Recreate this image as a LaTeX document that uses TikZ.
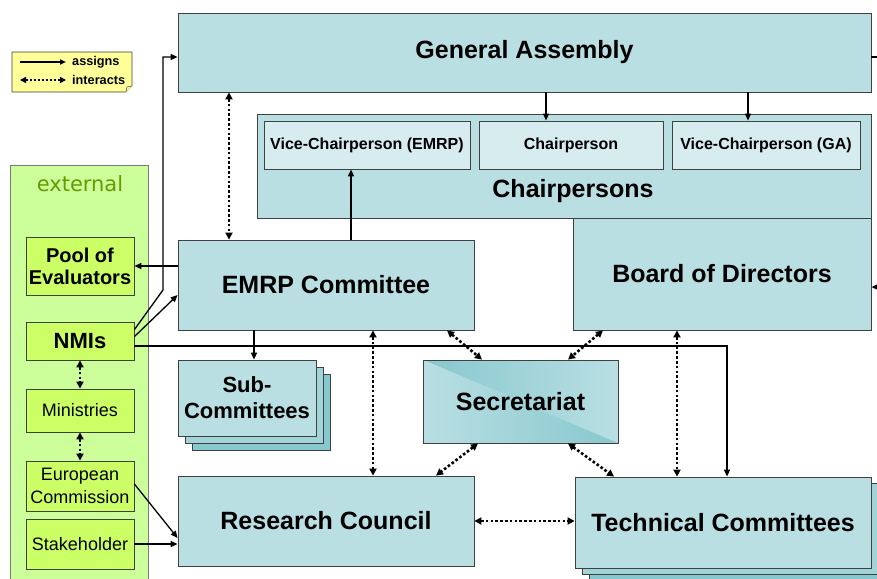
\documentclass[tikz,border=0pt]{standalone}
\usepackage{fontspec}
\setmainfont{Liberation Sans}
\newfontfamily\extfont{DejaVu Sans}
\usetikzlibrary{arrows.meta,calc}
\definecolor{tealA}{RGB}{185,223,227}
\definecolor{tealB}{RGB}{214,236,239}
\definecolor{tealC}{RGB}{160,212,217}
\definecolor{tealD}{RGB}{135,200,206}
\definecolor{bordercol}{RGB}{64,64,64}
\definecolor{yellowA}{RGB}{255,255,153}
\definecolor{greenA}{RGB}{204,255,153}
\definecolor{greenB}{RGB}{204,255,102}
\definecolor{extgreen}{RGB}{102,153,0}
\begin{document}
\begin{tikzpicture}[x=1pt,y=-1pt,
  box/.style={draw=bordercol, line width=0.8pt, fill=tealA, inner sep=0pt, align=center,
    font=\bfseries\fontsize{25}{28}\selectfont},
  chairbox/.style={box, fill=tealB, minimum height=48pt, font=\bfseries\fontsize{16}{18}\selectfont},
  gbox/.style={draw=bordercol, line width=0.8pt, fill=greenB, inner sep=0pt, align=center, minimum width=108pt},
  assign/.style={line width=1.3pt, -{Triangle[length=7pt,width=6pt]}},
  interact/.style={line width=2.6pt, dash pattern=on 2.6pt off 2.2pt,
    {Triangle[length=7pt,width=7pt]}-{Triangle[length=7pt,width=7pt]}},
  plainline/.style={line width=1.3pt}
]
\useasboundingbox (0,0) rectangle (877,578);
\clip (0,0) rectangle (877,578);

% legend
\path[draw=bordercol, fill=yellowA, line width=0.6pt] (12,52) -- (132,52) -- (132,86) -- (126,92) -- (12,92) -- cycle;
\path[draw=bordercol, fill=yellowA, line width=0.5pt] (126,92) -- (127,87) -- (132,86);
\coordinate (la1) at (20,62); \coordinate (la2) at (66,62);
\coordinate (lb1) at (20,80); \coordinate (lb2) at (66,80);
\draw[line width=1.5pt, -{Triangle[length=6pt,width=5pt]}] (la1) -- (la2);
\draw[line width=2pt, dash pattern=on 2pt off 2pt, {Triangle[length=6pt,width=6pt]}-{Triangle[length=6pt,width=6pt]}] (lb1) -- (lb2);
\node[anchor=west, inner sep=0pt, font=\bfseries\fontsize{12.7}{14}\selectfont] (lgA) at (72,62) {assigns};
\node[anchor=west, inner sep=0pt, font=\bfseries\fontsize{12.7}{14}\selectfont] (lgB) at (72,80) {interacts};

% external panel
\node[draw=bordercol!70, line width=0.8pt, fill=greenA, minimum width=138pt, minimum height=420pt, inner sep=0pt] (ext) at (79,375) {};
\node[font=\extfont\fontsize{21}{24}\selectfont, text=extgreen] (extlbl) at (80,184) {external};
\node[gbox, minimum height=58pt, font=\bfseries\fontsize{20}{22}\selectfont] (pool) at (80,266) {Pool of\\Evaluators};
\node[gbox, minimum height=38pt, font=\bfseries\fontsize{22}{24}\selectfont] (nmi) at (80,341) {NMIs};
\node[gbox, minimum height=43pt, font=\fontsize{18}{21}\selectfont] (min) at (80,410.5) {Ministries};
\node[gbox, minimum height=50pt, font=\fontsize{18}{23}\selectfont] (ec) at (80,486) {European\\Commission};
\node[gbox, minimum height=50pt, font=\fontsize{18}{21}\selectfont] (stk) at (80,544) {Stakeholder};

% main boxes
\node[box, minimum width=693pt, minimum height=79pt] (ga) at (524.5,52.5) {\raisebox{-2pt}{General Assembly}};
\node[box, minimum width=614pt, minimum height=104pt] (chairs) at (564,166) {};
\node[inner sep=0pt, font=\bfseries\fontsize{25}{28}\selectfont] (chtxt) at (573,191) {Chairpersons};
\node[chairbox, minimum width=206pt] (vce) at (367,145) {Vice-Chairperson (EMRP)};
\node[chairbox, minimum width=184pt] (ch) at (571,145) {Chairperson};
\node[chairbox, minimum width=188pt] (vcg) at (766,145) {Vice-Chairperson (GA)};
\node[box, minimum width=298pt, minimum height=112pt] (bod) at (722,274) {Board of Directors};
\node[box, minimum width=296pt, minimum height=90pt] (emrp) at (326,285) {\raisebox{-2pt}{EMRP Committee}};

% sub-committees stack
\node[box, fill=tealD, minimum width=138pt, minimum height=76pt] (subC) at (261,412) {};
\node[box, fill=tealC, minimum width=138pt, minimum height=76pt] (subB) at (254,405) {};
\node[box, minimum width=138pt, minimum height=76pt, font=\bfseries\fontsize{22}{26}\selectfont] (sub) at (247,398) {Sub-\\Committees};

% secretariat with two-way shading
\coordinate (s1) at (423,360); \coordinate (s2) at (618,360);
\coordinate (s3) at (618,443); \coordinate (s4) at (423,443);
\shade[left color=tealD, right color=tealA] (s1) -- (s2) -- (s3) -- cycle;
\shade[left color=tealA, right color=tealD] (s1) -- (s3) -- (s4) -- cycle;
\node[box, fill=none, minimum width=195pt, minimum height=83pt] (sec) at (520.5,401.5) {Secretariat};

\node[box, minimum width=296pt, minimum height=90pt] (rc) at (326,521) {Research Council};

% technical committees stack
\node[box, fill=tealD, minimum width=296pt, minimum height=91pt] (tcC) at (737,534.5) {};
\node[box, fill=tealC, minimum width=296pt, minimum height=91pt] (tcB) at (730,528.5) {};
\node[box, minimum width=296pt, minimum height=91pt] (tc) at (723,522.5) {Technical Committees};

% assigns
\draw[assign] (ga.south -| 546,0) -- (ch.north -| 546,0);
\draw[assign] (ga.south -| 748,0) -- (vcg.north -| 748,0);
\draw[assign] (emrp.north -| 351,0) -- (vce.south -| 351,0);
\draw[assign] ([yshift=-8pt]nmi.north east) -- (163,290) -- (163,57) -- (ga.west |- 0,57);
\draw[assign] ([yshift=-15pt]nmi.north east) -- (emrp.west |- 0,295);
\draw[assign] (emrp.west |- pool.east) -- (pool.east);
\draw[assign] (nmi.east |- 0,346) -- (727,346) -- (tc.north -| 727,0);
\draw[assign] (emrp.south -| 254,0) -- (sub.north -| 254,0);
\draw[assign] (ec.east |- 0,484) -- (rc.west |- 0,538);
\draw[assign] (stk.east) -- (rc.west |- stk.east);
\coordinate (gaout) at (877,57);
\draw[plainline] (ga.east |- gaout) -- (gaout);
\coordinate (bodin) at (877,287);
\draw[assign] (bodin) -- (bod.east |- bodin);

% interacts
\draw[interact] (ga.south -| 229,0) -- (emrp.north -| 229,0);
\draw[interact] (emrp.south -| 373,0) -- (rc.north -| 373,0);
\draw[interact] (emrp.south -| 447,0) -- (sec.north -| 482,0);
\draw[interact] (bod.south -| 603,0) -- (sec.north -| 568,0);
\draw[interact] (sec.south -| 478,0) -- (rc.north -| 436,0);
\draw[interact] (sec.south -| 568,0) -- (tc.north -| 614,0);
\draw[interact] (bod.south -| 677,0) -- (tc.north -| 677,0);
\draw[interact] (rc.east) -- (tc.west |- rc.east);
\draw[interact] (nmi.south) -- (min.north);
\draw[interact] (min.south) -- (ec.north);
\end{tikzpicture}
\end{document}
